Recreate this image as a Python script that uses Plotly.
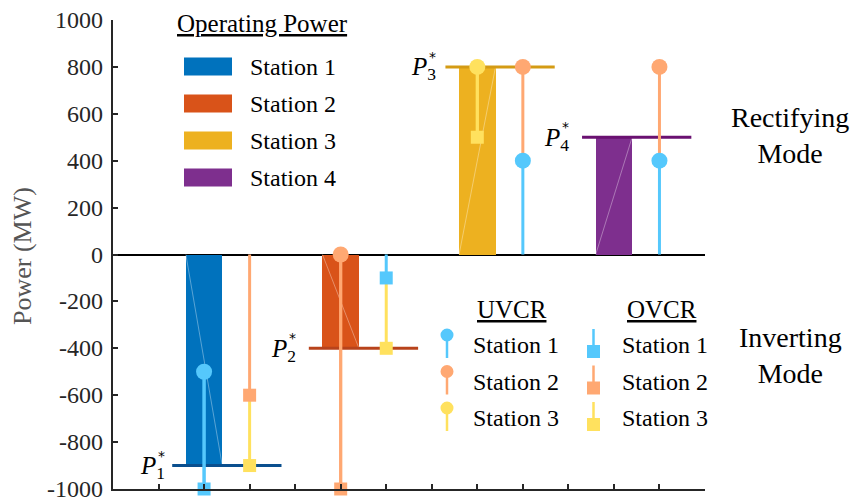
import plotly.graph_objects as go

# ---------------- data ----------------
stations = ["Station 1", "Station 2", "Station 3", "Station 4"]
bar_x = [2, 5, 8, 11]
op_power = [-900, -400, 800, 500]          # operating power P*_k (MW)

# UVCR (circle marker, stem downward)
uvcr_s1_x = [2, 9, 12]
uvcr_s1_y = [-500, 400, 400]
uvcr_s2_x = [5, 9, 12]
uvcr_s2_y = [0, 800, 800]
uvcr_s3_x = [8]
uvcr_s3_y = [800]

# OVCR (square marker, stem upward)
ovcr_s1_x = [2, 6]
ovcr_s1_y = [-1000, -100]
ovcr_s2_x = [3, 5]
ovcr_s2_y = [-600, -1000]
ovcr_s3_x = [3, 6, 8]
ovcr_s3_y = [-900, -400, 500]

x_ticks = list(range(1, 14))
y_ticks = list(range(-1000, 1001, 200))
y_tick_labels = [str(v) for v in y_ticks]

# ---------------- style ----------------
bar_colors = ["#0072BD", "#D95319", "#EDB120", "#7E2F8E"]
ref_colors = ["#0A4F8E", "#B8431B", "#D49B14", "#6A1171"]
light = ["#55C8FC", "#FFA872", "#FFE15E"]
label_gap = [-5, -11, -7, -11]
FONT = "Liberation Serif"
BAR_W = 0.8

L, T, W, H = 113, 20, 592, 469
FIG_W, FIG_H = 857, 498


def px(x):
    return (x - L) / W


def py(y):
    return (T + H - y) / H


fig = go.Figure()

# bars
fig.add_trace(go.Bar(x=bar_x, y=op_power, width=BAR_W,
                     marker=dict(color=bar_colors, line=dict(width=0)),
                     showlegend=False, hoverinfo="skip"))

# faint rendering diagonals inside bars
for xc, v in zip(bar_x, op_power):
    fig.add_trace(go.Scatter(x=[xc - BAR_W / 2, xc + BAR_W / 2], y=[0, v],
                             mode="lines", line=dict(color="rgba(255,255,255,0.35)", width=1),
                             showlegend=False, hoverinfo="skip"))

# reference lines P*
for xc, v, c in zip(bar_x, op_power, ref_colors):
    fig.add_trace(go.Scatter(x=[xc - 0.7, xc + 1.7], y=[v, v], mode="lines",
                             line=dict(color=c, width=3), showlegend=False, hoverinfo="skip"))

uvcr = [(uvcr_s1_x, uvcr_s1_y), (uvcr_s2_x, uvcr_s2_y), (uvcr_s3_x, uvcr_s3_y)]
ovcr = [(ovcr_s1_x, ovcr_s1_y), (ovcr_s2_x, ovcr_s2_y), (ovcr_s3_x, ovcr_s3_y)]

# all marker values per x position
vals_at = {}
for xs, ys in uvcr + ovcr:
    for xx, yy in zip(xs, ys):
        vals_at.setdefault(xx, []).append(yy)


def stem_end(xx, yy, down):
    cand = vals_at[xx] + [0]
    if down:
        c = [v for v in cand if v < yy]
        return max(c) if c else yy
    c = [v for v in cand if v > yy]
    return min(c) if c else yy


# stems
for group, down in ((uvcr, True), (ovcr, False)):
    for (xs, ys), col in zip(group, light):
        sx, sy = [], []
        for xx, yy in zip(xs, ys):
            sx += [xx, xx, None]
            sy += [yy, stem_end(xx, yy, down), None]
        fig.add_trace(go.Scatter(x=sx, y=sy, mode="lines", line=dict(color=col, width=3),
                                 showlegend=False, hoverinfo="skip"))

# markers
for (xs, ys), col in zip(ovcr, light):
    fig.add_trace(go.Scatter(x=xs, y=ys, mode="markers", cliponaxis=False,
                             marker=dict(symbol="square", size=13, color=col, line=dict(width=0)),
                             showlegend=False, hoverinfo="skip"))
for (xs, ys), col in zip(uvcr, light):
    fig.add_trace(go.Scatter(x=xs, y=ys, mode="markers", cliponaxis=False,
                             marker=dict(symbol="circle", size=16, color=col, line=dict(width=0)),
                             showlegend=False, hoverinfo="skip"))

shapes = []
annotations = []

# y tick labels (drawn as annotations so the bottom one is not dropped)
for v, lab in zip(y_ticks, y_tick_labels):
    annotations.append(dict(x=0, y=v, xref="paper", yref="y", xanchor="right", yanchor="middle",
                            xshift=-8, showarrow=False, text=lab,
                            font=dict(family=FONT, size=24, color="#262626")))

# P* labels
for k, (xc, v, g) in enumerate(zip(bar_x, op_power, label_gap), start=1):
    annotations.append(dict(x=xc - 0.7, y=v, xref="x", yref="y", xanchor="right", yanchor="middle",
                            xshift=g, yshift=-2, showarrow=False,
                            text=f"<i>P</i><sub>{k}</sub>",
                            font=dict(family=FONT, size=25, color="#000")))
    annotations.append(dict(x=xc - 0.7, y=v, xref="x", yref="y", xanchor="right", yanchor="middle",
                            xshift=g, yshift=10, showarrow=False, text="*",
                            font=dict(family="DejaVu Sans", size=14, color="#000")))

# Operating Power legend
annotations.append(dict(x=px(262), y=py(24), xref="paper", yref="paper", xanchor="center",
                        yanchor="middle", showarrow=False, text="<u>Operating Power</u>",
                        font=dict(family=FONT, size=25, color="#000")))
for i, (name, col) in enumerate(zip(stations, bar_colors)):
    yc = 66.5 + 37 * i
    shapes.append(dict(type="rect", xref="paper", yref="paper", x0=px(184), x1=px(232),
                       y0=py(yc + 9), y1=py(yc - 9), fillcolor=col, line=dict(width=0)))
    annotations.append(dict(x=px(248), y=py(yc), xref="paper", yref="paper", xanchor="left",
                            yanchor="middle", showarrow=False, text=name,
                            font=dict(family=FONT, size=24, color="#000")))

# UVCR / OVCR legend
annotations.append(dict(x=px(512), y=py(309), xref="paper", yref="paper", xanchor="center",
                        yanchor="middle", showarrow=False, text="<u>UVCR</u>",
                        font=dict(family=FONT, size=25, color="#000")))
annotations.append(dict(x=px(662), y=py(309), xref="paper", yref="paper", xanchor="center",
                        yanchor="middle", showarrow=False, text="<u>OVCR</u>",
                        font=dict(family=FONT, size=25, color="#000")))
for i in range(3):
    col = light[i]
    base = 345 + 36.5 * i
    # UVCR glyph: circle on top, stem down
    shapes.append(dict(type="line", xref="paper", yref="paper", x0=px(447), x1=px(447),
                       y0=py(base - 10), y1=py(base + 13), line=dict(color=col, width=2.5)))
    shapes.append(dict(type="circle", xref="paper", yref="paper", x0=px(440.5), x1=px(453.5),
                       y0=py(base - 3.5), y1=py(base - 16.5), fillcolor=col, line=dict(width=0)))
    annotations.append(dict(x=px(471), y=py(base), xref="paper", yref="paper", xanchor="left",
                            yanchor="middle", showarrow=False, text=stations[i],
                            font=dict(family=FONT, size=24, color="#000")))
    # OVCR glyph: stem up, square at bottom
    shapes.append(dict(type="line", xref="paper", yref="paper", x0=px(593.5), x1=px(593.5),
                       y0=py(base - 16), y1=py(base + 5), line=dict(color=col, width=2.5)))
    shapes.append(dict(type="rect", xref="paper", yref="paper", x0=px(587), x1=px(600),
                       y0=py(base + 13), y1=py(base), fillcolor=col, line=dict(width=0)))
    annotations.append(dict(x=px(620), y=py(base), xref="paper", yref="paper", xanchor="left",
                            yanchor="middle", showarrow=False, text=stations[i],
                            font=dict(family=FONT, size=24, color="#000")))

# mode labels
annotations.append(dict(x=px(790), y=py(135), xref="paper", yref="paper", xanchor="center",
                        yanchor="middle", showarrow=False, text="Rectifying<br>Mode",
                        font=dict(family=FONT, size=28, color="#000")))
annotations.append(dict(x=px(790), y=py(355), xref="paper", yref="paper", xanchor="center",
                        yanchor="middle", showarrow=False, text="Inverting<br>Mode",
                        font=dict(family=FONT, size=28, color="#000")))

# y-axis title
annotations.append(dict(x=px(22), y=py(256), xref="paper", yref="paper", xanchor="center",
                        yanchor="middle", showarrow=False, text="Power (MW)", textangle=-90,
                        font=dict(family=FONT, size=26, color="#555")))

fig.update_layout(
    width=FIG_W, height=FIG_H,
    margin=dict(l=L, r=FIG_W - L - W, t=T, b=FIG_H - T - H),
    paper_bgcolor="white", plot_bgcolor="white",
    shapes=shapes, annotations=annotations,
    xaxis=dict(range=[0, 13], tickvals=x_ticks, showticklabels=False, ticks="inside",
               ticklen=5, tickwidth=1.5, tickcolor="#262626", showline=True, linecolor="#262626",
               linewidth=2, showgrid=False, zeroline=False, fixedrange=True),
    yaxis=dict(range=[-1000, 1000], tickvals=y_ticks, showticklabels=False, ticks="inside",
               ticklen=5, tickwidth=1.5, tickcolor="#262626", showline=True, linecolor="#262626",
               linewidth=2, showgrid=False, zeroline=True, zerolinecolor="#000", zerolinewidth=2,
               fixedrange=True),
    bargap=0,
)

fig.write_html("out.html", post_script="document.body.style.margin='0px';",
               config={"displayModeBar": False})
